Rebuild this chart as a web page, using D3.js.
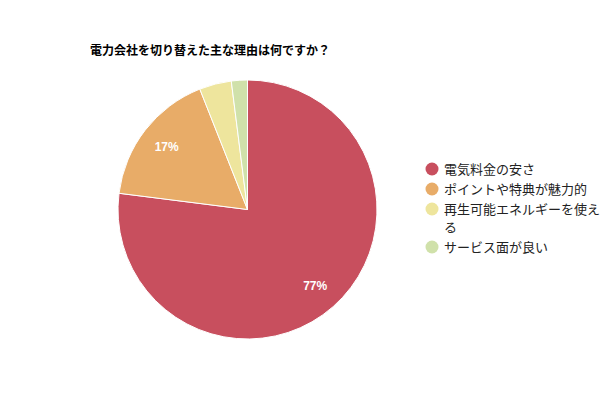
<!DOCTYPE html>
<html><head><meta charset="utf-8">
<script src="https://cdn.jsdelivr.net/npm/d3@7"></script>
<style>
html,body{margin:0;padding:0;background:#fff;}
svg{display:block;font-family:"Noto Sans CJK JP","Noto Sans",sans-serif;}
</style></head>
<body><svg id="c" width="600" height="400"></svg>
<script>
const title = "電力会社を切り替えた主な理由は何ですか？";
const categories = ["電気料金の安さ","ポイントや特典が魅力的","再生可能エネルギーを使える","サービス面が良い"];
const values = [77, 17, 4, 2];
const colors = ["#C84F5E","#E8AC68","#EEE59D","#D0E1AA"];

const svg = d3.select("#c");
svg.append("text").attr("x",90).attr("y",55)
  .attr("font-size",12).attr("font-weight","bold").attr("fill","#000").text(title);

const cx = 247.5, cy = 209.5, r = 129.5;
const total = d3.sum(values);
const pie = d3.pie().sort(null).value(d=>d.v);
const data = pie(categories.map((c,i)=>({c, v: values[i], col: colors[i]})));
const arc = d3.arc().innerRadius(0).outerRadius(r);
const labelArc = d3.arc().innerRadius(r*0.79).outerRadius(r*0.79);
const g = svg.append("g").attr("transform",`translate(${cx},${cy})`);
g.selectAll("path").data(data).join("path")
  .attr("d",arc).attr("fill",d=>d.data.col).attr("stroke","#fff").attr("stroke-width",1);
g.selectAll("text.lbl").data(data.filter(d=>d.data.v/total>=0.1)).join("text")
  .attr("class","lbl")
  .attr("transform",d=>`translate(${labelArc.centroid(d)})`)
  .attr("text-anchor","middle").attr("dy","0.35em")
  .attr("font-size",12).attr("font-weight","bold").attr("fill","#fff")
  .attr("font-family","Arial,'Liberation Sans',sans-serif")
  .text(d=>Math.round(d.data.v/total*100)+"%");

// legend
const lx = 432, textX = 444, maxW = 158;
let y = 169;
categories.forEach((c,i)=>{
  svg.append("circle").attr("cx",lx).attr("cy",y).attr("r",6.5).attr("fill",colors[i]);
  const t = svg.append("text").attr("x",textX).attr("y",y)
    .attr("font-size",13).attr("fill","#222");
  let lines = [], cur = "";
  const probe = svg.append("text").attr("font-size",13);
  for (const ch of c) {
    probe.text(cur+ch);
    if (probe.node().getComputedTextLength() > maxW && cur) { lines.push(cur); cur = ch; }
    else cur += ch;
  }
  lines.push(cur); probe.remove();
  lines.forEach((ln,j)=>{
    t.append("tspan").attr("x",textX).attr("dy", j===0 ? "0.35em" : 18).text(ln);
  });
  y += 20 + (lines.length-1)*18;
});
</script></body></html>
